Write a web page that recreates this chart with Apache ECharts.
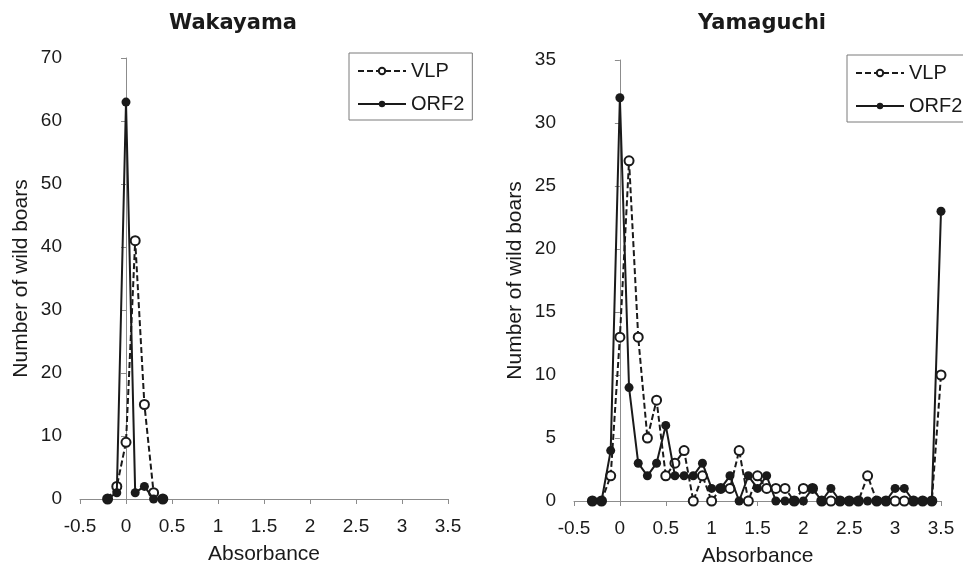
<!DOCTYPE html>
<html>
<head>
<meta charset="utf-8">
<script src="https://cdn.jsdelivr.net/npm/echarts@6/dist/echarts.min.js"></script>
<style>
  html, body { margin: 0; background: #fff; }
  #chart { width: 963px; height: 565px; }
</style>
</head>
<body>
<div id="chart"></div>
<script>
// absorbance bins and counts
const wakayamaX = [-0.2, -0.1, 0, 0.1, 0.2, 0.3, 0.4]
const wakayamaVLP = [0, 2, 9, 41, 15, 1, 0]
const wakayamaORF2 = [0, 1, 63, 1, 2, 0, 0]

const yamaguchiX = [-0.3, -0.2, -0.1, 0, 0.1, 0.2, 0.3, 0.4, 0.5, 0.6, 0.7, 0.8, 0.9,
  1.0, 1.1, 1.2, 1.3, 1.4, 1.5, 1.6, 1.7, 1.8, 1.9, 2.0, 2.1, 2.2, 2.3, 2.4, 2.5, 2.6,
  2.7, 2.8, 2.9, 3.0, 3.1, 3.2, 3.3, 3.4, 3.5]
const yamaguchiVLP = [0, 0, 2, 13, 27, 13, 5, 8, 2, 3, 4, 0, 2,
  0, 1, 1, 4, 0, 2, 1, 1, 1, 0, 1, 1, 0, 0, 0, 0, 0,
  2, 0, 0, 0, 0, 0, 0, 0, 10]
const yamaguchiORF2 = [0, 0, 4, 32, 9, 3, 2, 3, 6, 2, 2, 2, 3,
  1, 1, 2, 0, 2, 1, 2, 0, 0, 0, 0, 1, 0, 1, 0, 0, 0,
  0, 0, 0, 1, 1, 0, 0, 0, 23]

const titles = ['Wakayama', 'Yamaguchi']
const seriesNames = ['VLP', 'ORF2']
const yMax = [70, 35]
const yStep = [10, 5]

const font = 'Liberation Sans, Arial, sans-serif'
const ink = '#1a1a1a'
const axisGrey = '#8c8c8c'

const pairs = (xs, ys) => xs.map((x, i) => [x, ys[i]])

let mChart = echarts.init(document.getElementById('chart'))

// 一条线：VLP 虚线空心圈，ORF2 实线实心点
const makeLine = (name, xs, ys, idx) => {
  const dashed = name === 'VLP'
  return {
    name: name,
    type: 'line',
    xAxisIndex: idx,
    yAxisIndex: idx,
    data: pairs(xs, ys),
    symbol: dashed ? 'emptyCircle' : 'circle',
    symbolSize: 9,
    showAllSymbol: true,
    lineStyle: {
      color: ink,
      width: 2,
      type: dashed ? [6, 3] : 'solid'
    },
    itemStyle: {
      color: ink,
      borderColor: ink,
      borderWidth: dashed ? 1.5 : 0
    },
    z: dashed ? 2 : 3,
    animation: false
  }
}

const makeX = (idx) => ({
  gridIndex: idx,
  type: 'value',
  min: -0.5,
  max: 3.5,
  interval: 0.5,
  name: 'Absorbance',
  nameLocation: 'middle',
  nameGap: 45,
  nameTextStyle: { color: ink, fontSize: 21, fontFamily: font },
  axisLine: { show: true, lineStyle: { color: axisGrey, width: 1 } },
  axisTick: { show: true, length: 5, lineStyle: { color: axisGrey } },
  axisLabel: { color: ink, fontSize: 19, fontFamily: font, margin: 18 },
  splitLine: { show: false }
})

const makeY = (idx) => ({
  gridIndex: idx,
  type: 'value',
  min: 0,
  max: yMax[idx],
  interval: yStep[idx],
  name: 'Number of wild boars',
  nameLocation: 'middle',
  nameGap: 48,
  nameTextStyle: { color: ink, fontSize: 21, fontFamily: font },
  axisLine: { show: true, lineStyle: { color: axisGrey, width: 1 } },
  axisTick: { show: true, length: 5, lineStyle: { color: axisGrey } },
  axisLabel: { color: ink, fontSize: 19, fontFamily: font, margin: 18 },
  splitLine: { show: false }
})

const makeLegend = (left, top) => ({
  data: seriesNames,
  orient: 'vertical',
  left: left,
  top: top,
  itemWidth: 48,
  itemHeight: 8,
  itemGap: 13,
  padding: [8, 8, 6, 8],
  borderColor: '#7a7a7a',
  borderWidth: 1,
  backgroundColor: '#fff',
  textStyle: { color: ink, fontSize: 20, fontFamily: font },
  selectedMode: false
})

const options = {
  backgroundColor: '#fff',
  animation: false,
  title: [
    {
      text: titles[0], left: 233, top: 13, padding: 0, textAlign: 'center',
      textStyle: { color: ink, fontSize: 21, fontWeight: 'bold', fontFamily: 'DejaVu Sans' }
    },
    {
      text: titles[1], left: 762, top: 13, padding: 0, textAlign: 'center',
      textStyle: { color: ink, fontSize: 21, fontWeight: 'bold', fontFamily: 'DejaVu Sans' }
    }
  ],
  legend: [makeLegend(349, 53), makeLegend(847, 55)],
  grid: [
    { left: 80, right: 515, top: 58, bottom: 66, outerBoundsMode: 'none' },
    { left: 574, right: 22, top: 60, bottom: 64, outerBoundsMode: 'none' }
  ],
  xAxis: [makeX(0), makeX(1)],
  yAxis: [makeY(0), makeY(1)],
  series: [
    makeLine('VLP', wakayamaX, wakayamaVLP, 0),
    makeLine('ORF2', wakayamaX, wakayamaORF2, 0),
    makeLine('VLP', yamaguchiX, yamaguchiVLP, 1),
    makeLine('ORF2', yamaguchiX, yamaguchiORF2, 1)
  ]
}

mChart.setOption(options)
</script>
</body>
</html>
